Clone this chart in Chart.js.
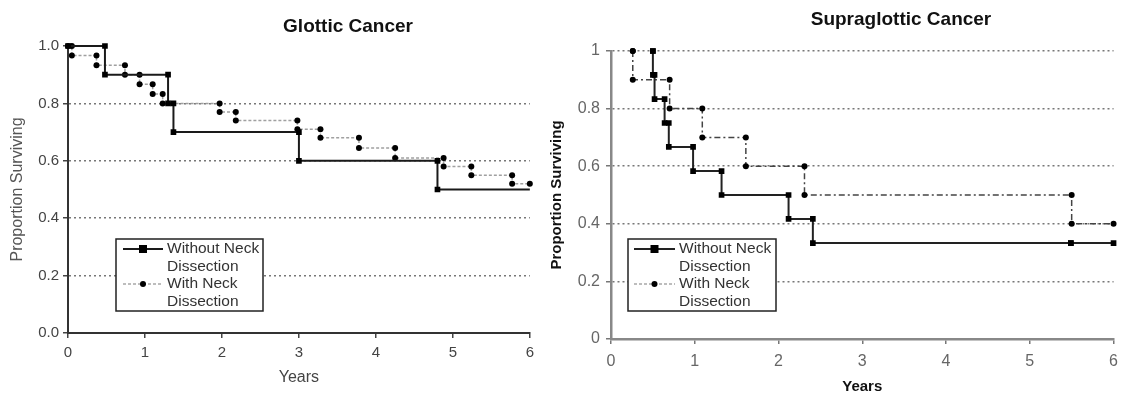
<!DOCTYPE html>
<html>
<head>
<meta charset="utf-8">
<script src="https://cdn.jsdelivr.net/npm/chart.js@4.4.1/dist/chart.umd.min.js"></script>
<style>
  html, body { margin: 0; padding: 0; background: #fff; }
  #wrap { position: relative; width: 1126px; height: 394px; }
  #glottic { position: absolute; left: 0; top: 0; }
  #supra { position: absolute; left: 540px; top: 0; }
</style>
</head>
<body>
<div id="wrap">
  <canvas id="glottic" width="540" height="394"></canvas>
  <canvas id="supra" width="586" height="394"></canvas>
</div>
<script>
// ========================
//    data
// ========================

// Glottic cancer - event times (years) and survival after each event
const glotticNoNeckTimes = [0.48, 1.30, 1.37, 3.00, 4.80];
const glotticNoNeckSurv  = [0.90, 0.80, 0.70, 0.60, 0.50];
const glotticNeckTimes = [0.05, 0.37, 0.74, 0.93, 1.10, 1.23, 1.97, 2.18, 2.98, 3.28, 3.78, 4.25, 4.88, 5.24, 5.77];
const glotticNeckSurv  = [0.967, 0.933, 0.90, 0.867, 0.833, 0.80, 0.77, 0.74, 0.71, 0.68, 0.645, 0.61, 0.58, 0.55, 0.52];

// Supraglottic cancer
const supraNoNeckTimes = [0.50, 0.52, 0.64, 0.69, 0.98, 1.32, 2.12, 2.41, 5.49];
const supraNoNeckSurv  = [0.917, 0.833, 0.75, 0.667, 0.583, 0.50, 0.417, 0.333, 0.333];
const supraNeckTimes = [0.26, 0.70, 1.09, 1.61, 2.31, 5.50];
const supraNeckSurv  = [0.90, 0.80, 0.70, 0.60, 0.50, 0.40];

const yearTicks = [0, 1, 2, 3, 4, 5, 6];
const survTicks = [0, 0.2, 0.4, 0.6, 0.8, 1];
const seriesNames = ['Without Neck Dissection', 'With Neck Dissection'];
const legendLines = [['Without Neck', 'Dissection'], ['With Neck', 'Dissection']];

const FONT = '"Liberation Sans", Arial, sans-serif';

// build the step points (top and bottom of every drop)
function kmSteps(startT, times, surv, endT) {
  const pts = [{ x: startT, y: 1 }];
  let s = 1;
  times.forEach((t, i) => {
    pts.push({ x: t, y: s });
    s = surv[i];
    pts.push({ x: t, y: s });
  });
  pts.push({ x: endT, y: s });
  return pts;
}

// ========================
//    small plugins
// ========================

const plotTitle = {
  id: 'plotTitle',
  afterDraw(chart, args, o) {
    const ctx = chart.ctx;
    ctx.save();
    ctx.font = 'bold ' + o.size + 'px ' + FONT;
    ctx.fillStyle = '#111';
    ctx.textAlign = 'center';
    ctx.textBaseline = 'middle';
    ctx.fillText(o.text, o.x, o.y);
    ctx.restore();
  }
};

const kmLegend = {
  id: 'kmLegend',
  afterDatasetsDraw(chart, args, o) {
    const ctx = chart.ctx;
    ctx.save();
    ctx.fillStyle = '#fff';
    ctx.fillRect(o.x, o.y, o.w, o.h);
    ctx.strokeStyle = '#222';
    ctx.lineWidth = 1.5;
    ctx.strokeRect(o.x, o.y, o.w, o.h);

    ctx.font = o.size + 'px ' + FONT;
    ctx.textAlign = 'left';
    ctx.textBaseline = 'middle';
    o.items.forEach((it, i) => {
      const cy = o.y + o.row0 + i * o.rowGap;
      ctx.strokeStyle = it.color;
      ctx.lineWidth = it.width;
      ctx.setLineDash(it.dash);
      ctx.beginPath();
      ctx.moveTo(o.x + o.sx1, cy);
      ctx.lineTo(o.x + o.sx2, cy);
      ctx.stroke();
      ctx.setLineDash([]);
      const mx = o.x + (o.sx1 + o.sx2) / 2;
      ctx.fillStyle = '#000';
      if (it.marker === 'rect') {
        ctx.fillRect(mx - 4, cy - 4, 8, 8);
      } else {
        ctx.beginPath();
        ctx.arc(mx, cy, 3, 0, Math.PI * 2);
        ctx.fill();
      }
      ctx.fillStyle = '#333';
      legendLines[i].forEach((line, j) => {
        ctx.fillText(line, o.x + o.tx, cy + j * o.lineGap);
      });
    });
    ctx.restore();
  }
};

// ========================
//    glottic chart
// ========================

new Chart(document.getElementById('glottic'), {
  type: 'line',
  data: {
    datasets: [{
      label: seriesNames[0],
      data: kmSteps(0, glotticNoNeckTimes, glotticNoNeckSurv, 6),
      borderColor: '#1a1a1a',
      borderWidth: 2,
      pointStyle: 'rect',
      pointRadius: ctx => ctx.dataIndex === ctx.dataset.data.length - 1 ? 0 : 4,
      pointBackgroundColor: '#000',
      pointBorderWidth: 0,
      clip: 10
    }, {
      label: seriesNames[1],
      data: kmSteps(0, glotticNeckTimes, glotticNeckSurv, 6),
      borderColor: '#a0a0a0',
      borderWidth: 1.5,
      borderDash: [3, 2],
      pointStyle: 'circle',
      pointRadius: 3,
      pointBackgroundColor: '#000',
      pointBorderWidth: 0,
      clip: 10
    }]
  },
  options: {
    responsive: false,
    animation: false,
    layout: { padding: { top: 46, right: 7, left: 0, bottom: 0 } },
    plugins: {
      legend: { display: false },
      tooltip: { enabled: false },
      plotTitle: { text: 'Glottic Cancer', x: 348, y: 27, size: 19 },
      kmLegend: {
        x: 116, y: 239, w: 147, h: 72, row0: 10, rowGap: 35, lineGap: 18,
        sx1: 7, sx2: 47, tx: 51, size: 15.5,
        items: [
          { color: '#1a1a1a', width: 2, dash: [], marker: 'rect' },
          { color: '#a8a8a8', width: 1.5, dash: [3, 2], marker: 'circle' }
        ]
      }
    },
    scales: {
      x: {
        type: 'linear', min: 0, max: 6,
        afterBuildTicks: s => { s.ticks = yearTicks.map(v => ({ value: v })); },
        afterFit: s => { s.height = 61; },
        ticks: { font: { family: FONT, size: 15 }, color: '#444', padding: 6, maxRotation: 0 },
        grid: { drawOnChartArea: false, tickLength: 5, color: '#444', lineWidth: 1.5 },
        border: { color: '#333', width: 2 },
        title: { display: true, text: 'Years', font: { family: FONT, size: 16 }, color: '#444', padding: { top: 0, bottom: 7 } }
      },
      y: {
        min: 0, max: 1,
        afterBuildTicks: s => { s.ticks = survTicks.map(v => ({ value: v })); },
        afterFit: s => { s.width = 68; },
        ticks: { font: { family: FONT, size: 15 }, color: '#444', padding: 4, callback: v => v.toFixed(1) },
        grid: {
          color: ctx => (ctx.tick && (ctx.tick.value === 0 || ctx.tick.value === 1)) ? 'rgba(0,0,0,0)' : '#777',
          tickColor: '#444',
          lineWidth: 1.5,
          tickLength: 5
        },
        border: { color: '#333', width: 2, dash: [2, 3] },
        title: { display: true, text: 'Proportion Surviving', font: { family: FONT, size: 16 }, color: '#555', padding: { top: 8, bottom: 0 } }
      }
    }
  },
  plugins: [plotTitle, kmLegend]
});

// ========================
//    supraglottic chart
// ========================

new Chart(document.getElementById('supra'), {
  type: 'line',
  data: {
    datasets: [{
      label: seriesNames[0],
      data: kmSteps(supraNoNeckTimes[0], supraNoNeckTimes, supraNoNeckSurv, 6),
      borderColor: '#222',
      borderWidth: 2,
      pointStyle: 'rect',
      pointRadius: 4,
      pointBackgroundColor: '#000',
      pointBorderWidth: 0,
      clip: 10
    }, {
      label: seriesNames[1],
      data: kmSteps(supraNeckTimes[0], supraNeckTimes, supraNeckSurv, 6),
      borderColor: '#444',
      borderWidth: 1.5,
      borderDash: [6, 3, 2, 3],
      pointStyle: 'circle',
      pointRadius: 3,
      pointBackgroundColor: '#000',
      pointBorderWidth: 0,
      clip: 10
    }]
  },
  options: {
    responsive: false,
    animation: false,
    layout: { padding: { top: 51, right: 7, left: 0, bottom: 0 } },
    plugins: {
      legend: { display: false },
      tooltip: { enabled: false },
      plotTitle: { text: 'Supraglottic Cancer', x: 361, y: 20, size: 19 },
      kmLegend: {
        x: 88, y: 239, w: 148, h: 72, row0: 10, rowGap: 35, lineGap: 18,
        sx1: 6, sx2: 47, tx: 51, size: 15.5,
        items: [
          { color: '#222', width: 2, dash: [], marker: 'rect' },
          { color: '#a8a8a8', width: 1.5, dash: [3, 2], marker: 'circle' }
        ]
      }
    },
    scales: {
      x: {
        type: 'linear', min: 0, max: 6,
        afterBuildTicks: s => { s.ticks = yearTicks.map(v => ({ value: v })); },
        afterFit: s => { s.height = 55; },
        ticks: { font: { family: FONT, size: 16 }, color: '#666', padding: 8, maxRotation: 0 },
        grid: { drawOnChartArea: false, tickLength: 5, color: '#777', lineWidth: 1.5 },
        border: { color: '#888', width: 2.5 },
        title: { display: true, text: 'Years', font: { family: FONT, size: 15, weight: 'bold', lineHeight: 1 }, color: '#111', padding: { top: 0, bottom: 0 } }
      },
      y: {
        min: 0, max: 1,
        afterBuildTicks: s => { s.ticks = survTicks.map(v => ({ value: v })); },
        afterFit: s => { s.width = 71; },
        ticks: { font: { family: FONT, size: 16 }, color: '#666', padding: 6, callback: v => String(v) },
        grid: {
          color: ctx => (ctx.tick && ctx.tick.value === 0) ? 'rgba(0,0,0,0)' : '#777',
          tickColor: '#777',
          lineWidth: 1.5,
          tickLength: 5
        },
        border: { color: '#888', width: 2.5, dash: [2, 3] },
        title: { display: true, text: 'Proportion Surviving', font: { family: FONT, size: 15, weight: 'bold' }, color: '#111', padding: { top: 8, bottom: 0 } }
      }
    }
  },
  plugins: [plotTitle, kmLegend]
});
</script>
</body>
</html>
